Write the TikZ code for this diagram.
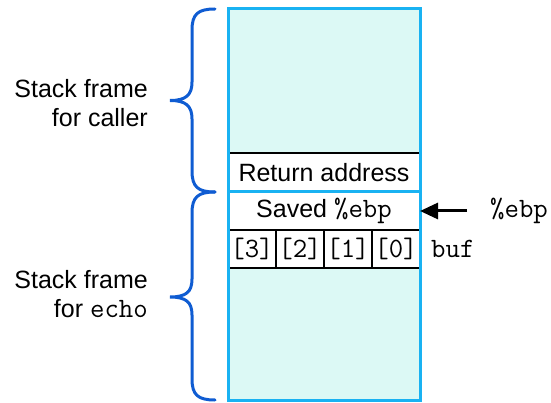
\documentclass[tikz,border=0pt]{standalone}
\usepackage{fontspec}
\setmainfont{Liberation Sans}
\usetikzlibrary{arrows.meta}
\definecolor{framecyan}{HTML}{19B2F2}
\definecolor{fillcyan}{HTML}{DCF9F5}
\definecolor{braceblue}{HTML}{0F5CD2}
\newcommand{\codefont}{\ttfamily\fontsize{28}{30}\selectfont}
\begin{document}
\begin{tikzpicture}[x=1pt,y=-1pt,
  region/.style={draw=none, inner sep=0pt, outer sep=0pt, anchor=north west},
  framebox/.style={draw=framecyan, line width=3pt},
  rowline/.style={draw=black, line width=1.6pt},
  lbl/.style={inner sep=0pt, font=\fontsize{25}{29}\selectfont},
  mono/.style={inner sep=0pt, font=\codefont},
  brace/.style={draw=braceblue, line width=3pt, line cap=round}]
\useasboundingbox (0,0) rectangle (551,403);

% filled areas of the two frames
\node[region, fill=fillcyan, minimum width=192pt, minimum height=144pt] (caller) at (228,9) {};
\node[region, fill=white, minimum width=192pt, minimum height=39pt] (ret) at (228,153) {};
\node[region, fill=white, minimum width=192pt, minimum height=38pt] (saved) at (228,192) {};
\foreach \i/\n in {0/3,1/2,2/1,3/0}
  \node[region, fill=white, minimum width=48pt, minimum height=38pt] (b\n) at (228+48*\i,230) {};
\node[region, fill=fillcyan, minimum width=192pt, minimum height=132pt] (echo) at (228,268) {};

% row separators
\draw[rowline] (caller.south west) -- (caller.south east);
\draw[rowline] (saved.south west) -- (saved.south east);
\draw[rowline] (b3.south west) -- (b0.south east);
\foreach \n in {3,2,1}
  \draw[rowline] (b\n.north east) -- (b\n.south east);

% frame outlines
\draw[framebox] (caller.north west) rectangle (ret.south east);
\draw[framebox] (saved.north west) rectangle (echo.south east);

% cell texts
\node[lbl] at (ret.center) {Return address};
\node[lbl] at (saved.center) {Saved {\codefont \%ebp}};
\foreach \n in {3,2,1,0}
  \node[mono] at (b\n.center) {[\n]};
\node[mono, anchor=west] (buflab) at (431,249) {buf};

% frame pointer
\node[mono, anchor=west] (ebplab) at (490,211) {\%ebp};
\coordinate (arrstart) at (467,211);
\draw[line width=3pt, -{Triangle[length=18pt,width=16pt]}] (arrstart) -- (saved.east);

% braces
\draw[brace] (215,9) .. controls (198,9) and (192,14) .. (192,30) -- (192,82)
  .. controls (192,95) and (186,100.5) .. (170,100.5)
  .. controls (186,100.5) and (192,106) .. (192,119) -- (192,171)
  .. controls (192,187) and (198,192) .. (215,192);
\draw[brace] (215,192) .. controls (198,192) and (192,197) .. (192,213) -- (192,279)
  .. controls (192,292) and (186,297) .. (170,297)
  .. controls (186,297) and (192,302) .. (192,315) -- (192,379)
  .. controls (192,395) and (198,400) .. (215,400);

% frame labels
\node[lbl, anchor=base east] (callerA) at (148,98) {Stack frame};
\node[lbl, anchor=base east] (callerB) at (148,127) {for caller};
\node[lbl, anchor=base east] (echoA) at (148,288) {Stack frame};
\node[lbl, anchor=base east] (echoB) at (148,317) {for {\codefont echo}};
\end{tikzpicture}
\end{document}
